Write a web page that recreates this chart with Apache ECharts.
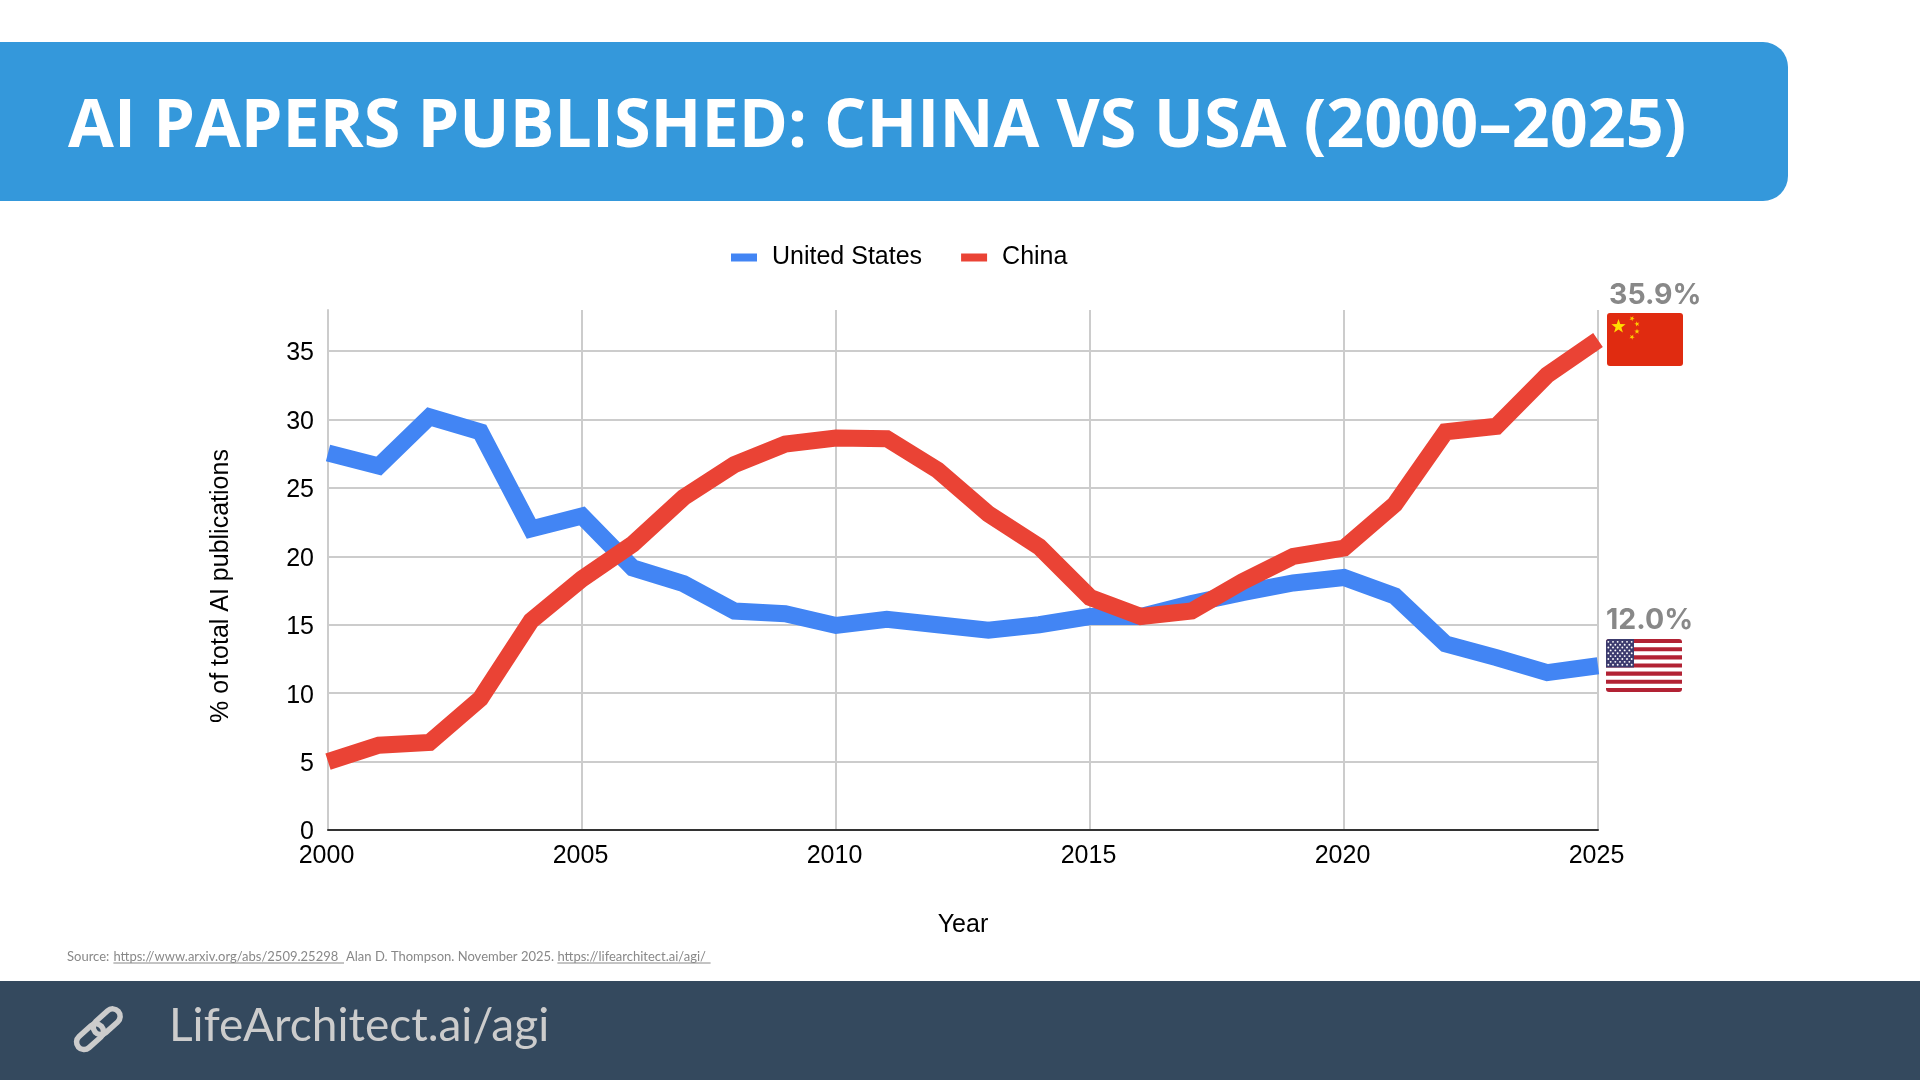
<!DOCTYPE html>
<html>
<head>
<meta charset="utf-8">
<style>html,body{margin:0;padding:0;background:#fff}#c{width:1920px;height:1080px}</style>
<script src="https://cdn.jsdelivr.net/npm/echarts@6/dist/echarts.min.js"></script>
</head>
<body>
<div id="c"></div>
<script>
const years = [2000,2001,2002,2003,2004,2005,2006,2007,2008,2009,2010,2011,2012,2013,2014,2015,2016,2017,2018,2019,2020,2021,2022,2023,2024,2025];
const usValues = [27.55,26.6,30.2,29.1,22.0,22.95,19.15,18.0,16.0,15.8,14.95,15.4,15.0,14.6,15.0,15.6,15.6,16.55,17.35,18.05,18.45,17.1,13.6,12.6,11.5,12.0];
const chinaValues = [5.0,6.2,6.4,9.6,15.3,18.35,20.9,24.3,26.7,28.2,28.65,28.6,26.3,23.1,20.7,17.0,15.6,16.0,18.15,20.0,20.6,23.8,29.1,29.5,33.25,35.8];
const seriesNames = ['United States','China'];
const endLabels = ['35.9%','12.0%'];
const titleText = 'AI PAPERS PUBLISHED: CHINA VS USA (2000–2025)';
const footerText = 'LifeArchitect.ai/agi';
const sourceParts = ['Source:','https://www.arxiv.org/abs/2509.25298','Alan D. Thompson. November 2025.','https://lifearchitect.ai/agi/'];
const xName = 'Year';
const yName = '% of total AI publications';

function star(cx, cy, r, rot, fill) {
  const pts = [];
  for (let i = 0; i < 10; i++) {
    const a = -Math.PI / 2 + (rot || 0) + i * Math.PI / 5;
    const q = i % 2 ? r * 0.4 : r;
    pts.push([cx + q * Math.cos(a), cy + q * Math.sin(a)]);
  }
  return {type:'polygon', shape:{points:pts}, style:{fill}, silent:true};
}
function chinaFlag(x, y, w, h) {
  const out = [{type:'rect', shape:{x, y, width:w, height:h, r:3}, style:{fill:'#E02B10'}, silent:true}];
  out.push(star(x+11.5, y+13.5, 7.5, 0, '#FFDE00'));
  [[25,5.5,0.5],[30,11,1],[30,18.5,0],[25,24,0.5]].forEach(s => out.push(star(x+s[0], y+s[1], 2.8, s[2], '#FFCE00')));
  return out;
}
function usFlag(x, y, w, h) {
  const out = [{type:'rect', shape:{x, y, width:w, height:h, r:3}, style:{fill:'#fff'}, silent:true}];
  const sh = h / 13;
  for (let i = 0; i < 13; i += 2) {
    const r = i === 0 ? [3,3,0,0] : i === 12 ? [0,0,3,3] : 0;
    out.push({type:'rect', shape:{x, y:y+i*sh, width:w, height:sh, r}, style:{fill:'#B22234'}, silent:true});
  }
  const cw = 28, ch = sh * 7;
  out.push({type:'rect', shape:{x, y, width:cw, height:ch, r:[3,0,0,0]}, style:{fill:'#3C3B6E'}, silent:true});
  for (let row = 0; row < 9; row++) {
    const n = row % 2 ? 5 : 6;
    for (let c = 0; c < n; c++) {
      const px = x + (row % 2 ? 2*cw/12 : cw/12) + c * cw / 6;
      const py = y + (row + 1) * ch / 10;
      out.push({type:'circle', shape:{cx:px, cy:py, r:0.95}, style:{fill:'#fff'}, silent:true});
    }
  }
  return out;
}
function linkPiece(cx, cy) {
  return {type:'rect', x:cx, y:cy, rotation:-0.84,
    shape:{x:-7.5, y:-15.5, width:15, height:31, r:7.5},
    style:{fill:'none', stroke:'#cccccc', lineWidth:5.5}, silent:true};
}
const grey = '#888888';
const sourceStyle = {font:'13px Lato', fill:grey};
function srcText(t, x) { return {type:'text', x, y:950, style:{...sourceStyle, text:t}, silent:true}; }
function underline(x1, x2) { return {type:'line', shape:{x1, y1:963, x2, y2:963}, style:{stroke:grey, lineWidth:1}, silent:true}; }

const graphics = [
  {type:'rect', z:-1, shape:{x:0, y:42, width:1788, height:159, r:[0,25,25,0]}, style:{fill:'#3498DB'}, silent:true},
  {type:'rect', z:-1, shape:{x:0, y:981, width:1920, height:99}, style:{fill:'#34495E'}, silent:true},
  {type:'text', x:169, y:1003, style:{text:footerText, font:'46px Lato', fill:'#cccccc'}, silent:true},
  linkPiece(106.7, 1021.7),
  linkPiece(90, 1036.7),
  srcText(sourceParts[0], 67), srcText(sourceParts[1], 113.4), srcText(sourceParts[2], 346), srcText(sourceParts[3], 557.4),
  underline(113.4, 344), underline(557.4, 710.6),
  {type:'text', x:1609, y:281, style:{text:endLabels[0], font:'bold 28.5px Inter', fill:grey}, silent:true},
  {type:'text', x:1606, y:606, style:{text:endLabels[1], font:'bold 28.5px Inter', fill:grey}, silent:true},
  ...chinaFlag(1607, 313, 76, 53),
  ...usFlag(1606, 639, 76, 53)
];

const axisFont = {color:'#000', fontFamily:'Liberation Sans', fontSize:25};
const chart = echarts.init(document.getElementById('c'), null, {renderer:'canvas'});
chart.setOption({
  animation:false,
  backgroundColor:'#ffffff',
  title:{text:titleText, left:63, top:77, textStyle:{color:'#fff', fontFamily:'Open Sans', fontWeight:'bold', fontSize:66.5, lineHeight:92}},
  legend:{left:726, top:240, icon:'rect', itemWidth:26, itemHeight:8, itemGap:39,
    textStyle:{...axisFont, padding:[2,0,0,10]}, data:seriesNames, selectedMode:false},
  grid:{left:328, right:322, top:310, bottom:250, containLabel:false},
  xAxis:{type:'value', min:2000, max:2025, interval:5, name:xName, nameLocation:'middle', nameGap:83,
    nameTextStyle:axisFont,
    axisLine:{show:true, onZero:false, lineStyle:{color:'#333', width:2}}, axisTick:{show:false},
    axisLabel:{...axisFont, margin:14, formatter:v => String(v), hideOverlap:false, padding:[0,3,0,0]},
    splitLine:{show:true, lineStyle:{color:'#cccccc', width:2}}},
  yAxis:{type:'value', min:0, max:38, interval:5, name:yName, nameLocation:'middle', nameGap:94,
    nameTextStyle:{...axisFont, padding:[0,32,0,0]},
    axisLine:{show:true, lineStyle:{color:'#cccccc', width:2}}, axisTick:{show:false},
    axisLabel:{margin:14, showMaxLabel:false, formatter:v => '{n|' + v + '}',
      rich:{n:{...axisFont, padding:[5,0,0,0]}}},
    splitLine:{show:true, showMaxLine:false, lineStyle:{color:'#cccccc', width:2}}},
  series:[
    {name:seriesNames[0], type:'line', data:years.map((y,i)=>[y,usValues[i]]), showSymbol:false, symbol:'none',
     itemStyle:{color:'#4285F4'}, lineStyle:{color:'#4285F4', width:17, join:'miter', miterLimit:4, cap:'butt'}, z:3},
    {name:seriesNames[1], type:'line', data:years.map((y,i)=>[y,chinaValues[i]]), showSymbol:false, symbol:'none',
     itemStyle:{color:'#EA4335'}, lineStyle:{color:'#EA4335', width:17, join:'miter', miterLimit:4, cap:'butt'}, z:4}
  ],
  graphic:{elements:graphics}
});
</script>
</body>
</html>
